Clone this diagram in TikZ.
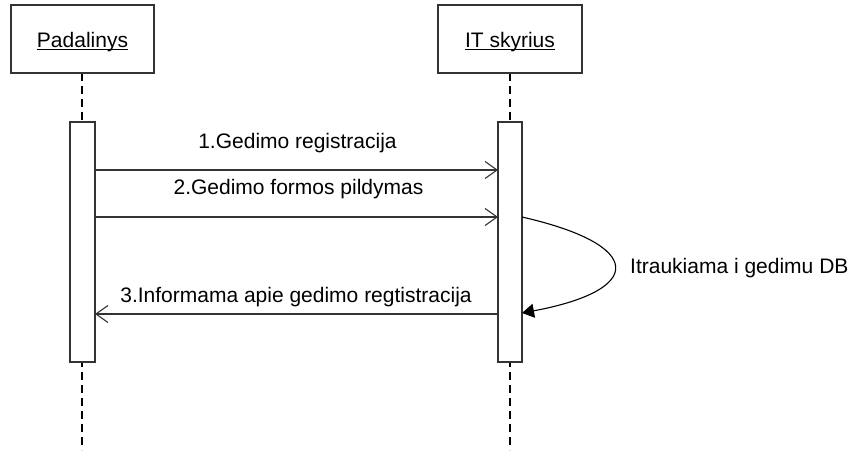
\documentclass[tikz,border=0pt]{standalone}
\usepackage{fontspec}
\setmainfont{Liberation Sans}
\usetikzlibrary{arrows.meta}
\begin{document}
\begin{tikzpicture}[x=1pt,y=-1pt,
  every node/.style={font=\fontsize{21}{25}\selectfont, inner sep=0pt},
  objbox/.style={draw=black!80, line width=1.1pt, fill=white},
  lifeline/.style={draw=black, line width=2.2pt, dash pattern=on 8pt off 5pt},
  actbox/.style={draw=black!80, line width=1.1pt, fill=white},
  msg/.style={draw=black!80, line width=1.1pt, -{Straight Barb[length=12pt,width=17pt,line width=1.1pt]}},
  selfmsg/.style={draw=black, line width=1.1pt, -{Triangle[length=12pt,width=14pt]}},
  uline/.style={draw=black, line width=1.2pt},
  lbl/.style={anchor=base}]
\useasboundingbox (0,0) rectangle (853,450);

% lifelines
\draw[lifeline] (82,73) -- (82,450);
\draw[lifeline] (510,73) -- (510,450);

% object headers with underlined names
\draw[objbox] (11,5) rectangle (154,73);
\node[lbl] (pad) at (82.5,47) {Padalinys};
\draw[uline] ([yshift=-2.5pt]pad.base west) -- ([yshift=-2.5pt]pad.base east);
\draw[objbox] (438,5) rectangle (582,73);
\node[lbl] (it) at (510,47) {IT skyrius};
\draw[uline] ([yshift=-2.5pt]it.base west) -- ([yshift=-2.5pt]it.base east);

% activation bars
\draw[actbox] (70,122) rectangle (95,362);
\draw[actbox] (498,122) rectangle (522,362);
\coordinate (a1) at (95,170);  \coordinate (b1) at (498,170);
\coordinate (a2) at (95,217);  \coordinate (b2) at (498,217);
\coordinate (a3) at (95,314);  \coordinate (b3) at (498,314);
\coordinate (s0) at (522,217); \coordinate (s1) at (522,313);

% messages
\draw[msg] (a1) -- (b1);
\node[lbl] (m1) at (297.5,148) {1.Gedimo registracija};
\draw[msg] (a2) -- (b2);
\node[lbl] (m2) at (298.5,194) {2.Gedimo formos pildymas};
\draw[msg] (b3) -- (a3);
\node[lbl] (m3) at (296,302) {3.Informama apie gedimo regtistracija};

% self call
\draw[selfmsg] (s0) .. controls (645,245) and (645,290) .. (s1);
\node[lbl, anchor=base west] (m4) at (630,273) {Itraukiama i gedimu DB};
\end{tikzpicture}
\end{document}
